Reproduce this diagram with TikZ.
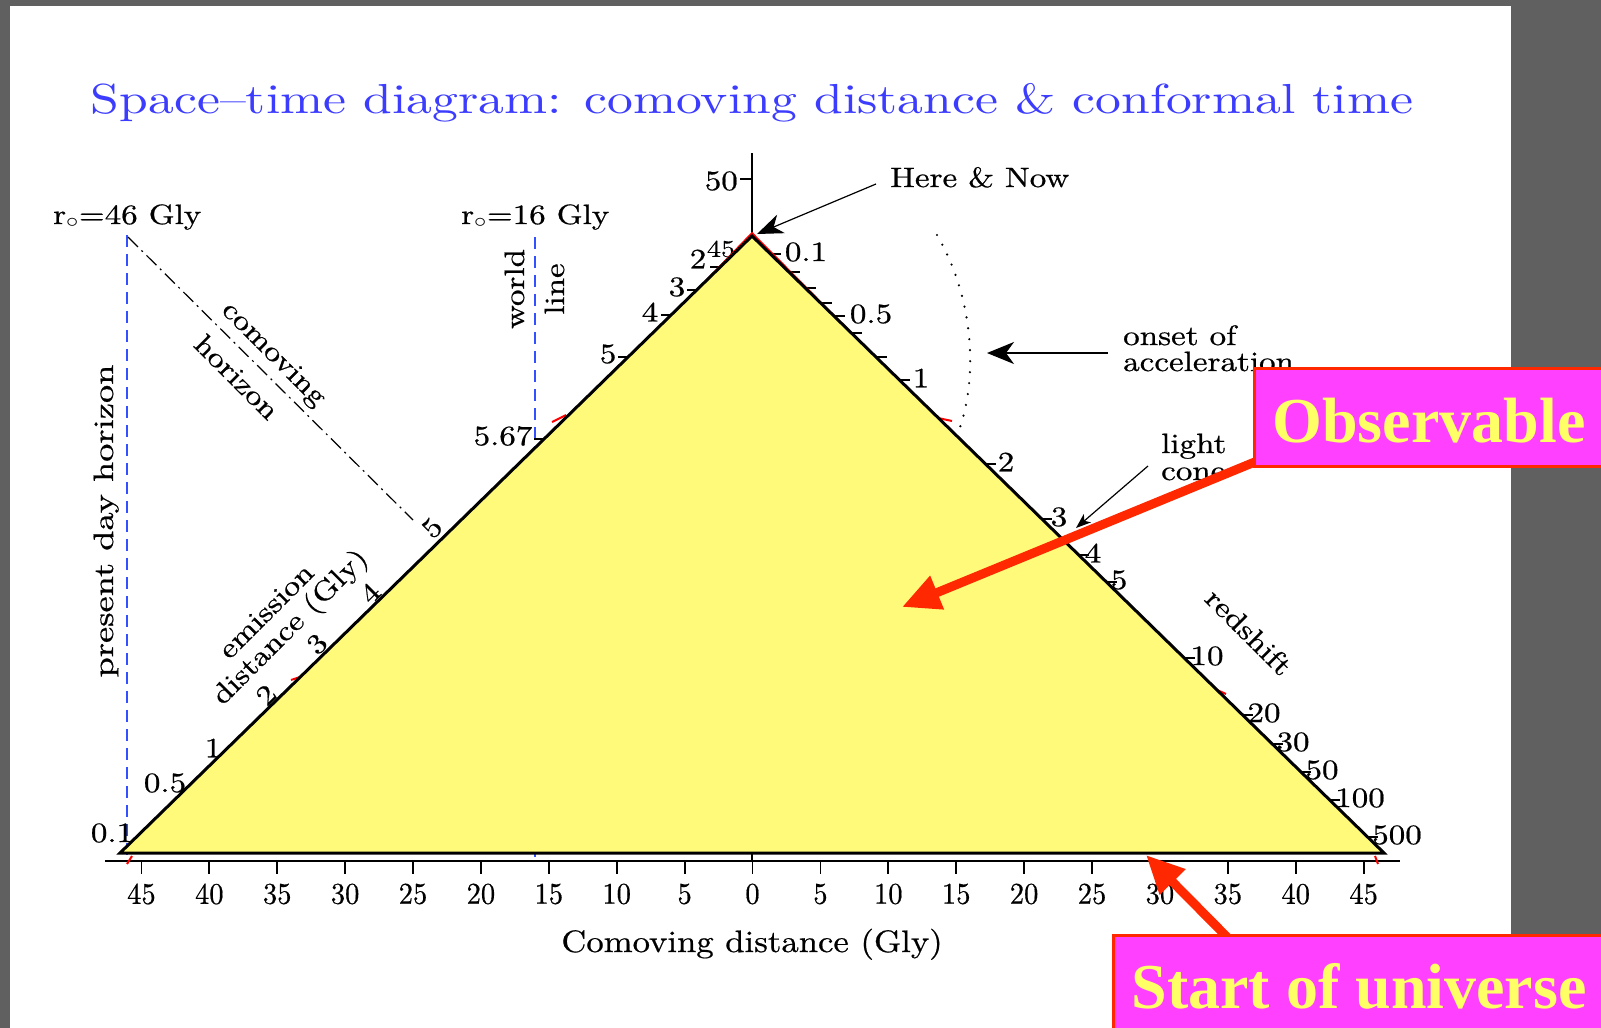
\documentclass[tikz,border=0pt]{standalone}
\usepackage{fontspec}
\newfontfamily\boxfont{Liberation Serif}
\newfontfamily\plotfont{lmroman10-regular.otf}[Ligatures=TeX, FakeBold=0.6]
\newfontfamily\titlefont{lmroman10-regular.otf}[Ligatures=TeX]
\usetikzlibrary{arrows.meta}
\newcommand{\hstr}[2][1.18]{\scalebox{#1}[1]{#2}}
\definecolor{bggray}{RGB}{96,96,96}
\definecolor{ttlblue}{RGB}{60,60,255}
\definecolor{dashblue}{RGB}{50,80,255}
\definecolor{triyel}{RGB}{255,250,122}
\definecolor{boxmag}{RGB}{255,64,255}
\definecolor{boxred}{RGB}{255,40,0}
\definecolor{txtyel}{RGB}{255,255,102}
\tikzset{
 lbl/.style={font=\plotfont\fontsize{28}{32}\selectfont, inner sep=0pt, text=black},
 axl/.style={font=\plotfont\fontsize{30}{34}\selectfont, inner sep=0pt, text=black},
 thinln/.style={line width=1.2pt},
 bluedash/.style={draw=dashblue, line width=1.6pt, dash pattern=on 12pt off 7pt},
 bigbox/.style={draw=boxred, line width=2.5pt, fill=boxmag, inner sep=0pt, anchor=north west},
 bigtxt/.style={font=\boxfont\bfseries\fontsize{64}{70}\selectfont, text=txtyel, anchor=base, inner sep=0pt},
 redarrow/.style={draw=boxred, line width=9pt, -{Triangle[length=38pt,width=34pt]}},
 blkarrow/.style={thinln, -{Stealth[length=26pt,width=20pt,inset=8pt]}},
 redbit/.style={draw=red, line width=2pt},
}
\begin{document}
\begin{tikzpicture}[x=1pt,y=-1pt]
\useasboundingbox (0,0) rectangle (1601,1028);
\fill[bggray] (0,0) rectangle (1601,1028);
\fill[white] (10,6) rectangle (1511,1028);

% title
\node[anchor=base, inner sep=0pt, text=ttlblue, font=\titlefont\fontsize{42}{46}\selectfont] (title) at (752,113)
  {\hstr[1.23]{Space--time diagram: comoving distance \& conformal time}};

% horizons and world line
\coordinate (h46t) at (127,235); \coordinate (h46b) at (127,861);
\draw[bluedash] (h46t) -- (h46b);
\coordinate (h16t) at (535,237); \coordinate (h16b) at (535,861);
\draw[bluedash] (h16t) -- (h16b);
\coordinate (chA) at (128,237); \coordinate (chB) at (413,520);
\draw[thinln, dash pattern=on 14pt off 5pt on 2pt off 5pt] (chA) -- (chB);

\node[lbl, anchor=base west] (r46) at (53,224) {\hstr{r$_\circ$=46\,\,Gly}};
\node[lbl, anchor=base west] (r16) at (461,224) {\hstr{r$_\circ$=16\,\,Gly}};
\node[lbl, rotate=90, anchor=base] (pdh) at (113,521) {\hstr[1.3]{present day horizon}};
\node[lbl, rotate=90, anchor=base] (wl1) at (524,289) {\hstr{world}};
\node[lbl, rotate=90, anchor=base] (wl2) at (564,289) {\hstr{line}};
\node[lbl, rotate=-45] (ch1) at (273,355) {\hstr{comoving}};
\node[lbl, rotate=-45] (ch2) at (237,377) {\hstr{horizon}};
\node[lbl, rotate=45] (em1) at (266,611) {\hstr{emission}};
\node[lbl, rotate=45] (em2) at (291,628) {\hstr{distance (Gly)}};
\node[lbl, rotate=-45] (rs) at (1249,632) {\hstr{redshift}};

% horizontal axis
\draw[line width=2.8pt] (105,861) -- (1400,861);
\foreach \d [count=\i] in {-45,-40,...,45} {
  \pgfmathsetmacro\xx{752.5+13.58*\d}
  \pgfmathtruncatemacro\a{abs(\d)}
  \draw[line width=1.8pt] (\xx,861) -- (\xx,874);
  \node[axl] (bx\i) at (\xx,894) {\hstr[0.95]{\a}};
}
\node[axl, anchor=base, font=\plotfont\fontsize{31}{34}\selectfont] (xlab) at (752,952) {\hstr[1.12]{Comoving distance (Gly)}};

% vertical (time) axis
\draw[line width=2.5pt] (752,153) -- (752,861);
\draw[line width=1.5pt] (740,179) -- (752,179);
\node[lbl, anchor=east] (t50) at (738,181) {\hstr{50}};
\node[lbl, font=\plotfont\fontsize{24}{26}\selectfont] (t45) at (721,249) {\hstr{45}};

% upper-left ticks
\foreach \t/\lx/\ly/\ty [count=\i] in {2/698/259/267, 3/677/287/290, 4/650/312/315, 5/608/354/357, 5.67/503/436/439} {
  \pgfmathsetmacro\xe{752-(\ty-236)*1.0227}
  \draw[thinln] (\xe,\ty) -- (\xe-10,\ty);
  \node[lbl] (lt\i) at (\lx,\ly) {\hstr{\t}};
}
% right-edge (redshift) ticks
\foreach \t/\lx/\ly [count=\i] in {0.1/806/252, 0.5/871/314, 1/921/378, 2/1006/462, 3/1059/517, 4/1093/553, 5/1119/580, 10/1207/656, 20/1264/713, 30/1293/742, 50/1322/770, 100/1360/798, 500/1397/835} {
  \pgfmathsetmacro\xe{752+(\ly+2-236)*1.0227}
  \draw[thinln] (\xe,\ly+2) -- (\xe+11,\ly+2);
  \node[lbl] (rz\i) at (\lx,\ly) {\hstr{\t}};
}
\foreach \ty in {272,288,303,333,357} {
  \pgfmathsetmacro\xe{752+(\ty-236)*1.0227}
  \draw[thinln] (\xe,\ty) -- (\xe+11,\ty);
}
% lower-left (emission distance) labels
\node[lbl, rotate=45] (ed5) at (432,528) {\hstr{5}};
\node[lbl, rotate=45] (ed4) at (370,593) {\hstr{4}};
\node[lbl, rotate=45] (ed3) at (317,644) {\hstr{3}};
\node[lbl, rotate=45] (ed2) at (266,695) {\hstr{2}};
\node[lbl] (ed1) at (213,748) {\hstr{1}};
\node[lbl] (ed05) at (165,783) {\hstr{0.5}};
\node[lbl] (ed01) at (112,833) {\hstr{0.1}};

% annotations
\node[lbl, anchor=base west] (here) at (890,187) {\hstr{Here \& Now}};
\coordinate (hereA) at (876,184); \coordinate (apexT) at (757,234);
\draw[blkarrow] (hereA) -- (apexT);
\node[lbl, anchor=base west] (on1) at (1123,345) {\hstr{onset of}};
\node[lbl, anchor=base west] (on2) at (1123,371) {\hstr{acceleration}};
\coordinate (onA) at (1108,353); \coordinate (onT) at (987,353);
\draw[thinln, -{Stealth[length=27pt,width=22pt,inset=8pt]}] (onA) -- (onT);
\coordinate (arcA) at (937,235); \coordinate (arcB) at (958,433);
\draw[line width=2.4pt, line cap=round, dash pattern=on 0pt off 11pt] (arcA) .. controls (975,300) and (978,380) .. (arcB);
\node[lbl, anchor=base west] (lc1) at (1161,453) {\hstr{light}};
\node[lbl, anchor=base west] (lc2) at (1161,480) {\hstr{cone}};
\coordinate (lcA) at (1148,466); \coordinate (lcT) at (1076,528);
\draw[thinln, -{Stealth[length=15pt,width=11pt,inset=4pt]}] (lcA) -- (lcT);

% red bits of the original light cone
\draw[redbit, line width=1.8pt] (670,318) -- (752,233) -- (874,356);
\draw[redbit] (552,422) -- (566,415);
\draw[redbit] (938,418) -- (952,421);
\draw[redbit] (291,680) -- (300,677);
\draw[redbit] (1217,690) -- (1226,694);
\draw[redbit] (127,864) -- (132,856);
\draw[redbit] (1375,856) -- (1378,864);

% observable triangle
\coordinate (apex) at (752,236); \coordinate (lv) at (120,853); \coordinate (rv) at (1384,853);
\filldraw[fill=triyel, draw=black, line width=3pt] (apex) -- (rv) -- (lv) -- cycle;

% call-outs
\coordinate (obsA) at (1262,459); \coordinate (obsT) at (902,607);
\draw[redarrow] (obsA) -- (obsT);
\node[bigbox, minimum width=370pt, minimum height=98pt] (obsbox) at (1253,367) {};
\node[bigtxt] (obstxt) at (1429,442) {Observable};

\coordinate (stA) at (1230,940); \coordinate (stT) at (1146,855);
\draw[redarrow] (stA) -- (stT);
\node[bigbox, minimum width=500pt, minimum height=110pt] (stbox) at (1112,934) {};
\node[bigtxt] (sttxt) at (1359,1008) {Start of universe};
\end{tikzpicture}
\end{document}
